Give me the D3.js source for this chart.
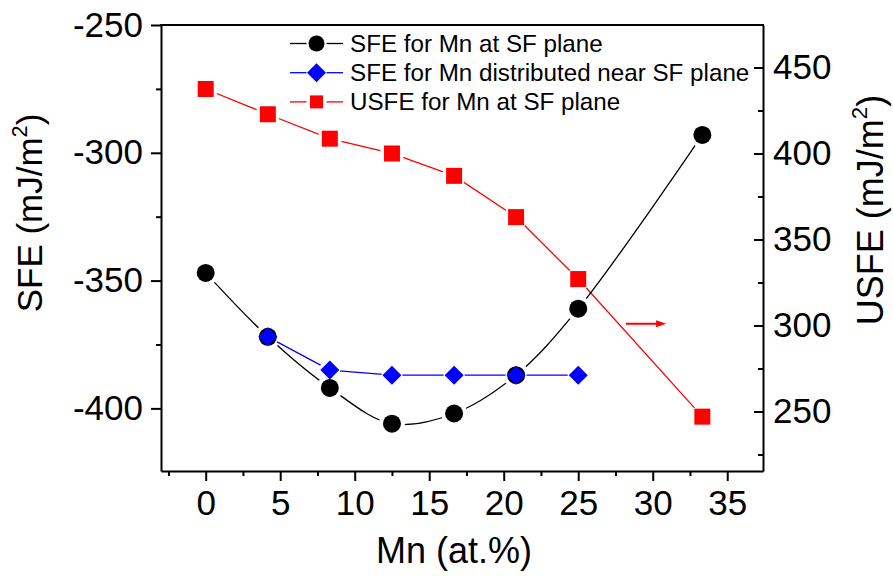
<!DOCTYPE html>
<html>
<head>
  <script src="https://d3js.org/d3.v7.min.js"></script>
  <style>
    body { margin: 0; background: #fff; }
    text { font-family: "Liberation Sans", Arial, sans-serif; }
  </style>
</head>
<body>
  <div id="chart"></div>
  <script>
    // Mn content (at.%)
    var mnAll = [0, 4.17, 8.33, 12.5, 16.67, 20.83, 25, 33.33];
    var mnNear = [4.17, 8.33, 12.5, 16.67, 20.83, 25];

    // values (mJ/m^2)
    var sfePlane = [-347, -372, -392, -406, -402, -387, -361, -293];
    var sfeNear = [-372, -385, -387, -387, -387, -387];
    var usfePlane = [437.5, 422.8, 408.6, 400, 387, 363, 327, 247];

    var xTicks = [0, 5, 10, 15, 20, 25, 30, 35];
    var xMinor = [-2.5, 2.5, 7.5, 12.5, 17.5, 22.5, 27.5, 32.5];
    var yTicks = [-400, -350, -300, -250];
    var yMinor = [-375, -325, -275];
    var y2Ticks = [250, 300, 350, 400, 450];
    var y2Minor = [225, 275, 325, 375, 425];

    // arrow pointing to the right axis (x in at.%, y in USFE units)
    var arrowX = [28.2, 30.9];
    var arrowY = 301;

    var W = 893, H = 576;
    var plotL = 161, plotR = 763, plotT = 25, plotB = 471;

    var svg = d3.select('#chart').append('svg')
      .attr('width', W)
      .attr('height', H);

    var x = d3.scaleLinear().domain([-3, 37.4]).range([plotL, plotR]);
    var y = d3.scaleLinear().domain([-424.5, -250]).range([plotB, plotT]);
    var y2 = d3.scaleLinear().domain([215.4, 474.7]).range([plotB, plotT]);

    var black = '#000', blue = '#0000ff', red = '#ff0000';
    var fmt = function(d){ return d < 0 ? '-' + Math.abs(d) : String(d); };

    function series(xs, ys) {
      return xs.map(function(d, i){ return [d, ys[i]]; });
    }
    var dPlane = series(mnAll, sfePlane);
    var dNear = series(mnNear, sfeNear);
    var dUsfe = series(mnAll, usfePlane);

    // masks: each line stops short of its own markers
    var defs = svg.append('defs');
    function makeMask(id, pts, gap) {
      var m = defs.append('mask').attr('id', id).attr('maskUnits', 'userSpaceOnUse')
        .attr('x', 0).attr('y', 0).attr('width', W).attr('height', H);
      m.append('rect').attr('width', W).attr('height', H).attr('fill', '#fff');
      m.selectAll('circle').data(pts).enter().append('circle')
        .attr('cx', function(d){ return d[0]; })
        .attr('cy', function(d){ return d[1]; })
        .attr('r', gap).attr('fill', '#000');
    }
    makeMask('m-plane', dPlane.map(function(d){ return [x(d[0]), y(d[1])]; }), 13);
    makeMask('m-near', dNear.map(function(d){ return [x(d[0]), y(d[1])]; }), 10.5);
    makeMask('m-usfe', dUsfe.map(function(d){ return [x(d[0]), y2(d[1])]; }), 12);

    // lines
    svg.append('path')
      .attr('d', d3.line().x(function(d){ return x(d[0]); }).y(function(d){ return y2(d[1]); })(dUsfe))
      .attr('fill', 'none').attr('stroke', red).attr('stroke-width', 1.3)
      .attr('mask', 'url(#m-usfe)');
    svg.append('path')
      .attr('d', d3.line().curve(d3.curveCatmullRom).x(function(d){ return x(d[0]); }).y(function(d){ return y(d[1]); })(dPlane))
      .attr('fill', 'none').attr('stroke', black).attr('stroke-width', 1.3)
      .attr('mask', 'url(#m-plane)');
    svg.append('path')
      .attr('d', d3.line().x(function(d){ return x(d[0]); }).y(function(d){ return y(d[1]); })(dNear))
      .attr('fill', 'none').attr('stroke', blue).attr('stroke-width', 1.3)
      .attr('mask', 'url(#m-near)');

    // markers
    function diamond(cx, cy, h) {
      return 'M' + cx + ',' + (cy - h) + 'L' + (cx + h) + ',' + cy + 'L' + cx + ',' + (cy + h) + 'L' + (cx - h) + ',' + cy + 'Z';
    }
    svg.selectAll('.pt-plane').data(dPlane).enter().append('circle')
      .attr('cx', function(d){ return x(d[0]); })
      .attr('cy', function(d){ return y(d[1]); })
      .attr('r', 9).attr('fill', black);
    svg.selectAll('.pt-near').data(dNear).enter().append('path')
      .attr('d', function(d){ return diamond(x(d[0]), y(d[1]), 9.5); })
      .attr('fill', blue);
    svg.selectAll('.pt-usfe').data(dUsfe).enter().append('rect')
      .attr('x', function(d){ return x(d[0]) - 8; })
      .attr('y', function(d){ return y2(d[1]) - 8; })
      .attr('width', 16).attr('height', 16).attr('fill', red);

    // arrow
    svg.append('line')
      .attr('x1', x(arrowX[0])).attr('x2', x(arrowX[1]) - 8)
      .attr('y1', y2(arrowY)).attr('y2', y2(arrowY))
      .attr('stroke', red).attr('stroke-width', 2);
    svg.append('path')
      .attr('d', 'M' + x(arrowX[1]) + ',' + y2(arrowY) + 'l-10,-3.5l0,7z')
      .attr('fill', red);

    // axes
    function styleAxis(g) {
      g.selectAll('path, line').attr('stroke', '#000').attr('stroke-width', 2);
      g.selectAll('text').attr('font-size', 35).attr('fill', '#000')
        .attr('font-family', '"Liberation Sans", Arial, sans-serif');
    }

    var gx = svg.append('g').attr('transform', 'translate(0,' + plotB + ')');
    gx.call(d3.axisBottom(x).tickValues(xTicks).tickSize(10).tickSizeOuter(0).tickPadding(9).tickFormat(fmt));
    gx.append('g').call(d3.axisBottom(x).tickValues(xMinor).tickSize(5).tickSizeOuter(0).tickFormat(''))
      .select('.domain').remove();
    styleAxis(gx);

    var gy = svg.append('g').attr('transform', 'translate(' + plotL + ',0)');
    gy.call(d3.axisLeft(y).tickValues(yTicks).tickSize(10).tickSizeOuter(0).tickPadding(8).tickFormat(fmt));
    gy.append('g').call(d3.axisLeft(y).tickValues(yMinor).tickSize(5).tickSizeOuter(0).tickFormat(''))
      .select('.domain').remove();
    styleAxis(gy);

    var gy2 = svg.append('g').attr('transform', 'translate(' + plotR + ',0)');
    gy2.call(d3.axisRight(y2).tickValues(y2Ticks).tickSizeInner(-9).tickSizeOuter(0).tickPadding(10).tickFormat(fmt));
    gy2.append('g').call(d3.axisRight(y2).tickValues(y2Minor).tickSizeInner(-5).tickSizeOuter(0).tickFormat(''))
      .select('.domain').remove();
    styleAxis(gy2);

    svg.append('line')
      .attr('x1', plotL - 1).attr('x2', plotR + 1).attr('y1', plotT).attr('y2', plotT)
      .attr('stroke', '#000').attr('stroke-width', 2);

    // axis titles
    svg.append('text')
      .attr('x', (plotL + plotR) / 2 - 8).attr('y', 563)
      .attr('text-anchor', 'middle').attr('font-size', 36)
      .text('Mn (at.%)');

    function yTitle(label, tx, ty, size) {
      var t = svg.append('text')
        .attr('transform', 'translate(' + tx + ',' + ty + ') rotate(-90)')
        .attr('text-anchor', 'middle').attr('font-size', size);
      t.append('tspan').text(label + ' (mJ/m');
      t.append('tspan').attr('font-size', size * 0.62).attr('dy', -size * 0.44).text('2');
      t.append('tspan').attr('dy', size * 0.44).text(')');
    }
    yTitle('SFE', 42, 213, 35);
    yTitle('USFE', 883, 210, 36);

    // legend
    var legend = [
      { label: 'SFE for Mn at SF plane', color: black, shape: 'circle' },
      { label: 'SFE for Mn distributed near SF plane', color: blue, shape: 'diamond' },
      { label: 'USFE for Mn at SF plane', color: red, shape: 'square' }
    ];
    var lg = svg.append('g');
    legend.forEach(function(d, i){
      var cy = 43.5 + i * 29.2;
      var cx = 316.5;
      lg.append('line').attr('x1', 290).attr('x2', cx - 10).attr('y1', cy).attr('y2', cy)
        .attr('stroke', d.color).attr('stroke-width', 1.3);
      lg.append('line').attr('x1', cx + 10).attr('x2', 343).attr('y1', cy).attr('y2', cy)
        .attr('stroke', d.color).attr('stroke-width', 1.3);
      if (d.shape === 'circle') {
        lg.append('circle').attr('cx', cx).attr('cy', cy).attr('r', 8).attr('fill', d.color);
      } else if (d.shape === 'diamond') {
        lg.append('path').attr('d', diamond(cx, cy, 9.5)).attr('fill', d.color);
      } else {
        lg.append('rect').attr('x', cx - 6.5).attr('y', cy - 6.5).attr('width', 13).attr('height', 13).attr('fill', d.color);
      }
      lg.append('text').attr('x', 350).attr('y', cy + 8.5).attr('font-size', 24.2).text(d.label);
    });
  </script>
</body>
</html>
